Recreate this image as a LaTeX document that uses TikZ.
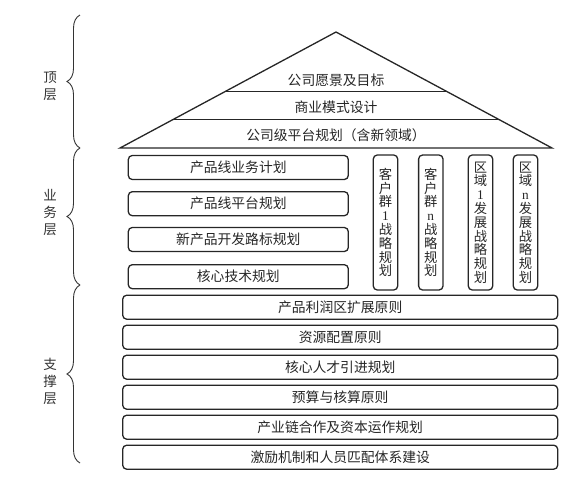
\documentclass[tikz,border=0pt]{standalone}
\usepackage{fontspec}
\setmainfont{Noto Sans CJK SC}
\newfontfamily\latserif{Liberation Serif}
\usetikzlibrary{calc,decorations.pathreplacing}
\tikzset{
  frame/.style={draw=black!85, line width=1.3pt},
  hbox/.style={frame, rounded corners=4pt, inner sep=0pt, minimum height=24pt,
    font=\fontsize{13.8}{15}\selectfont, text=black!85},
  vbox/.style={frame, rounded corners=4pt, inner sep=0pt, minimum width=24.4pt, minimum height=135pt,
    align=center, font=\fontsize{13.3}{13.8}\selectfont, text=black!85},
  layertext/.style={font=\fontsize{13.8}{15}\selectfont, text=black!85, inner sep=0pt},
  sidelabel/.style={align=center, font=\fontsize{13.5}{17}\selectfont, text=black!80, inner sep=0pt},
  bracestyle/.style={draw=black!80, line width=0.9pt, decorate, decoration={brace, amplitude=13pt}}
}
\begin{document}
\begin{tikzpicture}[x=1pt, y=-1pt]
\useasboundingbox (0,0) rectangle (586,485);
% braces
\coordinate (b0) at (80,15);
\coordinate (b1) at (80,148);
\coordinate (b2) at (80,285);
\coordinate (b3) at (80,463);
\draw[bracestyle] (b1) -- (b0);
\draw[bracestyle] (b2) -- (b1);
\draw[bracestyle] (b3) -- (b2);
\node[sidelabel] (l1) at (50,86) {顶\\层};
\node[sidelabel] (l2) at (50,213) {业\\务\\层};
\node[sidelabel] (l3) at (50,381) {支\\撑\\层};
% roof
\coordinate (apex) at (336,32);
\coordinate (bl) at (120,148);
\coordinate (br) at (552,148);
\draw[frame, line join=miter] (bl) -- (apex) -- (br) -- cycle;
\draw[frame] ($(apex)!0.515!(bl)$) -- ($(apex)!0.515!(br)$);
\draw[frame] ($(apex)!0.753!(bl)$) -- ($(apex)!0.753!(br)$);
\node[layertext] (t1) at (336,80) {公司愿景及目标};
\node[layertext] (t2) at (336,107) {商业模式设计};
\node[layertext] (t3) at (336,135) {公司级平台规划（含新领域）};
% business layer
\node[hbox, minimum width=220pt] (p1) at (238.3,167.5) {产品线业务计划};
\node[hbox, minimum width=220pt] (p2) at (238.3,203.7) {产品线平台规划};
\node[hbox, minimum width=220pt] (p3) at (238.3,239.5) {新产品开发路标规划};
\node[hbox, minimum width=220pt] (p4) at (238.3,276.7) {核心技术规划};
\node[vbox] (v1) at (385.5,222.5) {客\\户\\群\\{\latserif 1}\\战\\略\\规\\划};
\node[vbox] (v2) at (430.8,222.5) {客\\户\\群\\{\latserif n}\\战\\略\\规\\划};
\node[vbox] (v3) at (480.5,222.5) {区\\域\\{\latserif 1}\\发\\展\\战\\略\\规\\划};
\node[vbox] (v4) at (525.5,222.5) {区\\域\\{\latserif n}\\发\\展\\战\\略\\规\\划};
% support layer
\node[hbox, minimum width=435pt] (s1) at (340.2,307.2) {产品利润区扩展原则};
\node[hbox, minimum width=435pt] (s2) at (340.2,337.2) {资源配置原则};
\node[hbox, minimum width=435pt] (s3) at (340.2,367.2) {核心人才引进规划};
\node[hbox, minimum width=435pt] (s4) at (340.2,397.2) {预算与核算原则};
\node[hbox, minimum width=435pt] (s5) at (340.2,427.2) {产业链合作及资本运作规划};
\node[hbox, minimum width=435pt] (s6) at (340.2,457.2) {激励机制和人员匹配体系建设};
\end{tikzpicture}
\end{document}
